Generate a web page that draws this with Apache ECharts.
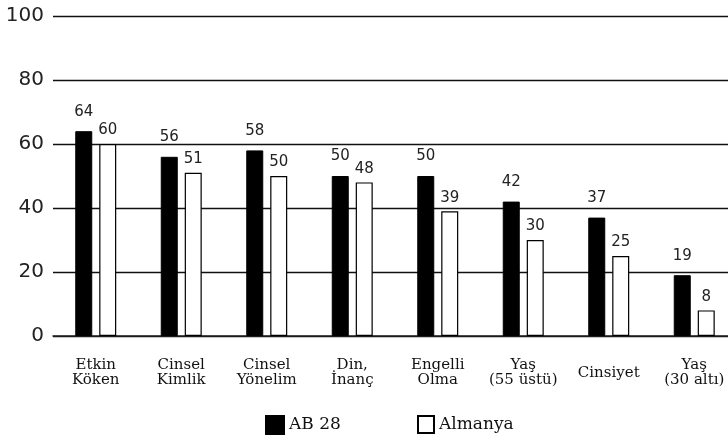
<!DOCTYPE html>
<html><head><meta charset="utf-8">
<script src="https://cdn.jsdelivr.net/npm/echarts@6/dist/echarts.min.js"></script>
<style>html,body{margin:0;padding:0;background:#fff;overflow:hidden}#c{width:740px;height:438px}</style>
</head><body><div id="c"></div>
<script>
var categories = ["Etkin\nKöken", "Cinsel\nKimlik", "Cinsel\nYönelim", "Din,\nİnanç", "Engelli\nOlma", "Yaş\n(55 üstü)", "Cinsiyet", "Yaş\n(30 altı)"];
var ab28 = [64, 56, 58, 50, 50, 42, 37, 19];
var almanya = [60, 51, 50, 48, 39, 30, 25, 8];
var yTicks = [0, 20, 40, 60, 80, 100];

var numFont = "DejaVu Sans";
var txtFont = "DejaVu Serif";
var chart = echarts.init(document.getElementById('c'), null, {renderer: 'canvas'});
chart.setOption({
  animation: false,
  backgroundColor: '#fff',
  grid: {left: 53, width: 684, top: 16, height: 320, containLabel: false},
  legend: [
    {data: ['AB 28'], icon: 'rect', left: 265, top: 415, itemWidth: 18, itemHeight: 18,
     textStyle: {fontFamily: txtFont, fontSize: 17, color: '#111'}, padding: 0},
    {data: ['Almanya'], icon: 'rect', left: 417, top: 415, itemWidth: 16, itemHeight: 17,
     textStyle: {fontFamily: txtFont, fontSize: 17, color: '#111'}, padding: 0}
  ],
  xAxis: {
    type: 'category', data: categories,
    axisLine: {show: true, lineStyle: {color: '#222', width: 1.5}},
    axisTick: {show: false},
    axisLabel: {interval: 0, margin: 37, verticalAlign: 'middle', fontFamily: txtFont, fontSize: 15, lineHeight: 15, color: '#111'}
  },
  yAxis: {
    type: 'value', min: 0, max: 100, interval: 20,
    axisLine: {show: false}, axisTick: {show: false},
    axisLabel: {margin: 9, fontFamily: numFont, fontSize: 20, color: '#222',
      formatter: function (v) { return yTicks.indexOf(v) >= 0 ? String(v) : ''; }},
    splitLine: {lineStyle: {color: '#111', width: 1.3}}
  },
  series: [
    {name: 'AB 28', type: 'bar', data: ab28, barWidth: 17, barGap: '41%',
     itemStyle: {color: '#000', borderColor: '#000', borderWidth: 1},
     label: {show: true, position: 'top', distance: 12, fontFamily: numFont, fontSize: 15, color: '#222'}},
    {name: 'Almanya', type: 'bar', data: almanya, barWidth: 17,
     itemStyle: {color: '#fff', borderColor: '#000', borderWidth: 1.2},
     label: {show: true, position: 'top', distance: 6, fontFamily: numFont, fontSize: 15, color: '#222'}}
  ]
});
</script></body></html>
